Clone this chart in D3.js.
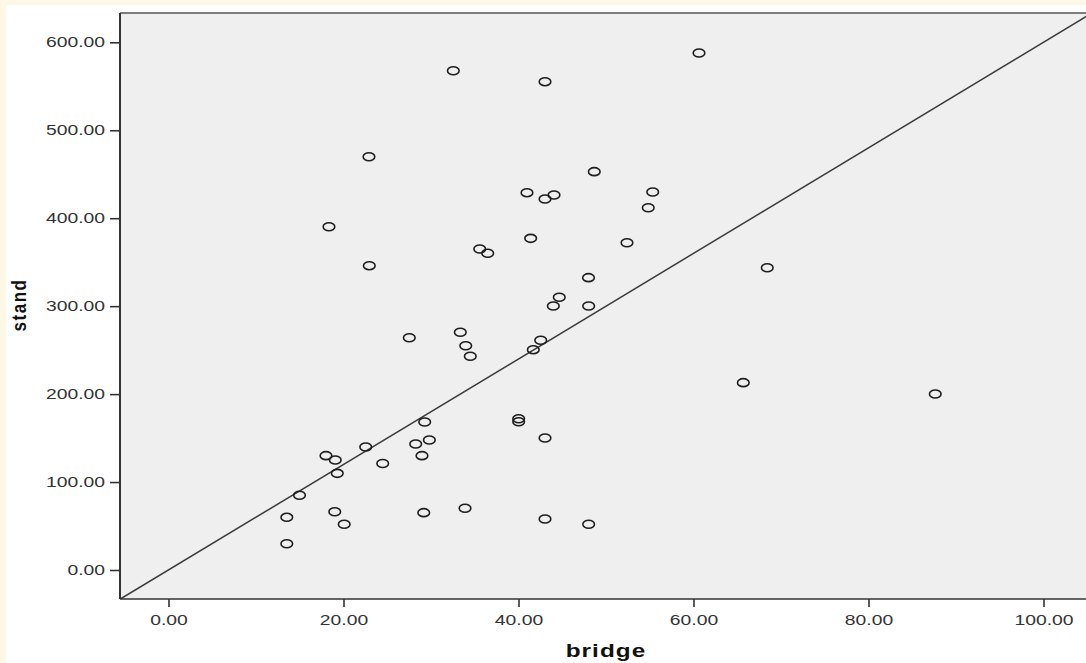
<!DOCTYPE html>
<html>
<head>
<meta charset="utf-8">
<script src="https://cdn.jsdelivr.net/npm/d3@7"></script>
<style>
  html, body { margin: 0; padding: 0; background: #fdf8e6; }
  svg { display: block; }
</style>
</head>
<body>
<svg id="chart" width="1086" height="663"></svg>
<script>
// bridge (x) and stand (y) observations
const bridge = [
  60.63, 32.55, 43.03, 22.91, 48.66, 40.97, 44.06, 43.03, 55.34, 54.83,
  18.34, 52.40, 41.39, 35.57, 36.48, 22.95, 68.43, 48.00, 44.66, 43.98,
  48.02, 27.52, 33.35, 33.97, 34.49, 42.54, 41.69, 65.69, 87.63, 40.02,
  40.02, 29.28, 43.03, 29.81, 28.25, 22.54, 18.00, 19.06, 24.48, 28.97,
  19.29, 14.97, 13.52, 19.00, 20.08, 29.17, 33.89, 13.52, 43.03, 48.02
];
const stand = [
  587.8, 567.7, 555.2, 469.9, 452.9, 429.0, 426.4, 421.8, 429.8, 411.9,
  390.3, 372.1, 377.1, 365.0, 360.1, 346.0, 343.7, 332.4, 310.1, 300.2,
  300.2, 264.1, 270.3, 255.0, 243.0, 261.2, 250.5, 213.0, 200.1, 172.0,
  168.6, 168.3, 150.1, 147.8, 143.3, 139.9, 130.0, 125.1, 121.1, 130.0,
  109.9, 85.0, 59.9, 66.2, 52.0, 65.2, 70.2, 29.8, 58.0, 52.0
];

const xTicks = [0, 20, 40, 60, 80, 100];
const yTicks = [0, 100, 200, 300, 400, 500, 600];

// reference line stand = slope * bridge + intercept
const lineSlope = 6.0;
const lineIntercept = 0;
const lineBridgeRange = [-10, 110];

const svg = d3.select("#chart");
const W = 1086, H = 663;

// white page inside the cream margin
svg.append("rect").attr("x", 6).attr("y", 5).attr("width", W - 6).attr("height", H - 5).attr("fill", "#ffffff");

// plot frame
const plot = { left: 120, right: 1086, top: 13, bottom: 599 };

const x = d3.scaleLinear().domain([0, 100]).range([168.5, 1043.5]);
const y = d3.scaleLinear().domain([0, 600]).range([570, 42.3]);

svg.append("defs").append("clipPath").attr("id", "plotClip")
  .append("rect")
  .attr("x", plot.left).attr("y", plot.top)
  .attr("width", plot.right - plot.left).attr("height", plot.bottom - plot.top);

svg.append("rect")
  .attr("x", plot.left).attr("y", plot.top)
  .attr("width", plot.right - plot.left).attr("height", plot.bottom - plot.top)
  .attr("fill", "#f0eff0");

const inner = svg.append("g").attr("clip-path", "url(#plotClip)");

// reference line
const linePts = lineBridgeRange.map(b => [b, lineSlope * b + lineIntercept]);
inner.append("path")
  .attr("d", d3.line().x(d => x(d[0])).y(d => y(d[1]))(linePts))
  .attr("fill", "none")
  .attr("stroke", "#3a3a3a")
  .attr("stroke-width", 1.5);

// scatter markers
inner.selectAll("ellipse.pt")
  .data(bridge.map((b, i) => ({ b, s: stand[i] })))
  .join("ellipse")
  .attr("class", "pt")
  .attr("cx", d => x(d.b))
  .attr("cy", d => y(d.s))
  .attr("rx", 5.8)
  .attr("ry", 4.0)
  .attr("fill", "none")
  .attr("stroke", "#1e1e1e")
  .attr("stroke-width", 1.6);

// frame lines
svg.append("line").attr("x1", plot.left).attr("x2", plot.right).attr("y1", plot.top).attr("y2", plot.top)
  .attr("stroke", "#555").attr("stroke-width", 1.5);
svg.append("line").attr("x1", plot.left).attr("x2", plot.right).attr("y1", plot.bottom).attr("y2", plot.bottom)
  .attr("stroke", "#333").attr("stroke-width", 1.6);
svg.append("line").attr("x1", plot.left).attr("x2", plot.left).attr("y1", plot.top).attr("y2", plot.bottom)
  .attr("stroke", "#333").attr("stroke-width", 2);

const tickFont = "'Liberation Sans', Arial, sans-serif";
const stretch = 1.38;

// y axis
const yAxis = d3.axisLeft(y).tickValues(yTicks).tickSize(10).tickFormat(d3.format(".2f"));
const gy = svg.append("g").attr("transform", `translate(${plot.left},0)`).call(yAxis);
gy.select(".domain").remove();
gy.selectAll(".tick line").attr("stroke", "#333").attr("stroke-width", 1.6);
gy.selectAll(".tick text")
  .attr("x", null).attr("dy", null)
  .attr("transform", `translate(-15,0) scale(${stretch},1)`)
  .attr("dominant-baseline", "central")
  .attr("fill", "#333")
  .style("font-family", tickFont)
  .style("font-size", "14px");

// x axis
const xAxis = d3.axisBottom(x).tickValues(xTicks).tickSize(8).tickFormat(d3.format(".2f"));
const gx = svg.append("g").attr("transform", `translate(0,${plot.bottom})`).call(xAxis);
gx.select(".domain").remove();
gx.selectAll(".tick line").attr("stroke", "#333").attr("stroke-width", 1.6);
gx.selectAll(".tick text")
  .attr("y", null).attr("dy", null)
  .attr("transform", `translate(0,26) scale(${stretch},1)`)
  .attr("fill", "#333")
  .style("font-family", tickFont)
  .style("font-size", "14px");

// axis titles
svg.append("text")
  .attr("transform", `translate(${(plot.left + plot.right) / 2 + 3},657) scale(1.35,1)`)
  .attr("text-anchor", "middle")
  .style("font-family", tickFont)
  .style("font-weight", "bold")
  .style("font-size", "18px")
  .style("letter-spacing", "0.8px")
  .attr("fill", "#111")
  .text("bridge");

svg.append("text")
  .attr("transform", `translate(26,305) scale(1.2,1) rotate(-90)`)
  .attr("text-anchor", "middle")
  .style("font-family", tickFont)
  .style("font-weight", "bold")
  .style("font-size", "17px")
  .style("letter-spacing", "1.5px")
  .attr("fill", "#111")
  .text("stand");
</script>
</body>
</html>
